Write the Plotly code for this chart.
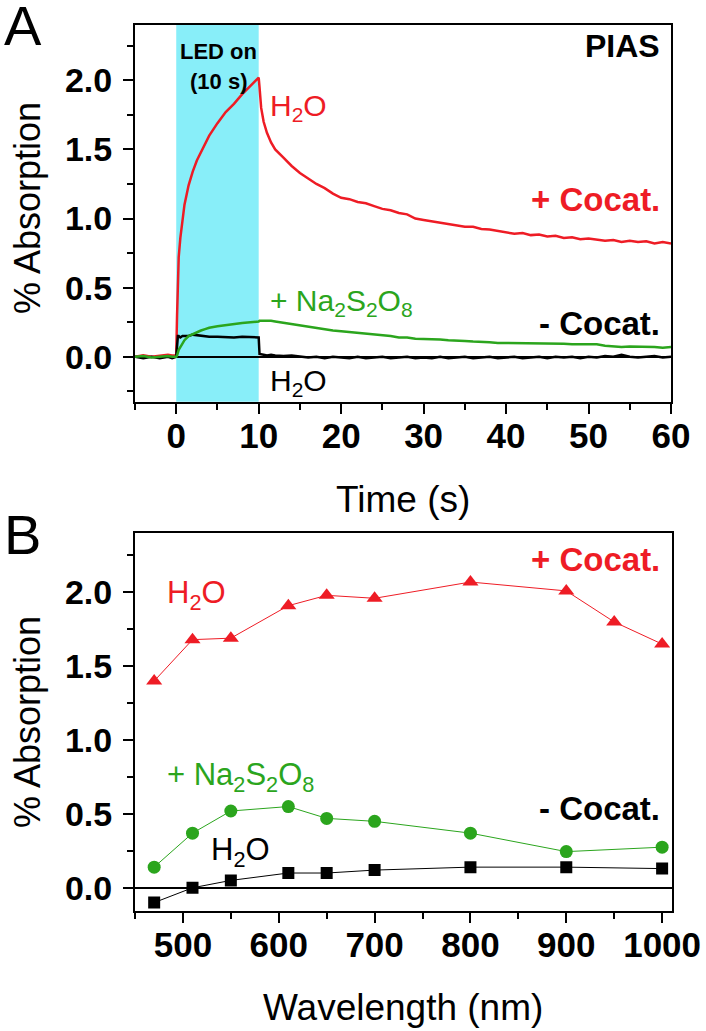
import plotly.graph_objects as go

# ---------------- data: panel A (PIAS kinetics) ----------------
time_s = [-5, -4, -3, -2, -1, -0.5, 0, 0.1, 0.2, 0.3, 0.5, 0.75, 1, 1.5, 2, 2.5, 3, 3.5, 4,
          5, 6, 7, 8, 9, 9.5, 9.9, 10, 10.1, 10.3, 10.6, 11, 11.5, 12, 13, 14, 15, 16, 17, 18, 19,
          20, 21, 22, 23, 24, 25, 26, 27, 28, 29, 30, 31, 32, 33, 34, 35, 36, 37, 38, 39,
          40, 41, 42, 43, 44, 45, 46, 47, 48, 49, 50, 51, 52, 53, 54, 55, 56, 57, 58, 59, 60]

h2o_cocat = [0.00, 0.01, 0.00, 0.01, 0.015, 0.01, 0.01, 0.30, 0.55, 0.72, 0.86, 1.00, 1.10, 1.24, 1.34, 1.42, 1.48, 1.54, 1.60,
             1.69, 1.77, 1.83, 1.90, 1.96, 1.99, 2.02, 2.02, 1.95, 1.80, 1.70, 1.62, 1.55, 1.50, 1.44, 1.38, 1.33, 1.29, 1.25, 1.22, 1.18,
             1.15, 1.14, 1.12, 1.11, 1.09, 1.07, 1.06, 1.04, 1.03, 1.00, 0.99, 0.98, 0.97, 0.96, 0.955, 0.94, 0.94, 0.925, 0.92, 0.91,
             0.90, 0.89, 0.895, 0.88, 0.885, 0.87, 0.875, 0.86, 0.865, 0.85, 0.855, 0.85, 0.84, 0.845, 0.83, 0.84, 0.83, 0.835, 0.82, 0.83, 0.82]

h2o_nococat = [0.00, -0.01, 0.00, -0.01, 0.00, -0.01, 0.00, 0.12, 0.15, 0.15, 0.14, 0.15, 0.15, 0.15, 0.16, 0.155, 0.15, 0.15, 0.145,
               0.145, 0.14, 0.14, 0.145, 0.145, 0.14, 0.145, 0.14, 0.02, 0.02, 0.015, 0.01, 0.015, 0.01, 0.005, 0.01, 0.00, -0.005, 0.00, -0.01, 0.00,
               -0.005, -0.01, 0.00, -0.01, -0.005, 0.00, -0.01, -0.005, 0.00, -0.01, -0.005, -0.01, 0.00, -0.01, -0.005, 0.00, -0.01, -0.005, 0.00, -0.01,
               -0.005, 0.00, -0.01, -0.005, 0.00, -0.01, 0.00, -0.005, 0.00, -0.01, 0.00, -0.005, 0.005, 0.00, 0.015, 0.00, -0.005, 0.00, 0.005, -0.005, 0.00]

na2s2o8 = [0.00, 0.005, -0.005, 0.00, 0.005, 0.00, 0.00, 0.01, 0.03, 0.05, 0.07, 0.10, 0.12, 0.15, 0.165, 0.18, 0.19, 0.20, 0.21,
           0.22, 0.23, 0.24, 0.245, 0.25, 0.25, 0.255, 0.255, 0.26, 0.26, 0.265, 0.265, 0.26, 0.255, 0.245, 0.235, 0.225, 0.215, 0.21, 0.20, 0.19,
           0.185, 0.18, 0.17, 0.165, 0.16, 0.155, 0.15, 0.14, 0.14, 0.13, 0.13, 0.125, 0.125, 0.12, 0.12, 0.115, 0.11, 0.11, 0.105, 0.10,
           0.10, 0.10, 0.095, 0.10, 0.10, 0.095, 0.095, 0.095, 0.09, 0.09, 0.09, 0.09, 0.08, 0.075, 0.07, 0.075, 0.075, 0.07, 0.07, 0.065, 0.07]

led_on_s = [0, 10]

# ---------------- data: panel B (wavelength dependence) ----------------
wl_cocat = [470, 510, 550, 610, 650, 700, 800, 900, 950, 1000]
abs_cocat = [1.40, 1.68, 1.69, 1.91, 1.98, 1.96, 2.07, 2.01, 1.80, 1.65]

wl_na = [470, 510, 550, 610, 650, 700, 800, 900, 1000]
abs_na = [0.14, 0.37, 0.52, 0.55, 0.47, 0.45, 0.37, 0.245, 0.275]

wl_h2o = [470, 510, 550, 610, 650, 700, 800, 900, 1000]
abs_h2o = [-0.10, 0.00, 0.05, 0.10, 0.10, 0.12, 0.14, 0.14, 0.13]

# ---------------- styling ----------------
W, H = 706, 1031
RED = "#EE1C25"
GREEN = "#2BA51D"
CYAN = "#88EEF9"
FONT = "Liberation Sans, Arial, Helvetica, sans-serif"


def px(x):
    return x / W


def py(y):
    return 1 - y / H


fig = go.Figure()

fig.add_trace(go.Scatter(x=time_s, y=h2o_cocat, mode="lines", line=dict(color=RED, width=2.5),
                         xaxis="x", yaxis="y", showlegend=False))
fig.add_trace(go.Scatter(x=time_s, y=h2o_nococat, mode="lines", line=dict(color="black", width=2.5),
                         xaxis="x", yaxis="y", showlegend=False))
fig.add_trace(go.Scatter(x=time_s, y=na2s2o8, mode="lines", line=dict(color=GREEN, width=2.5),
                         xaxis="x", yaxis="y", showlegend=False))

fig.add_trace(go.Scatter(x=wl_cocat, y=abs_cocat, mode="lines+markers",
                         line=dict(color=RED, width=1),
                         marker=dict(symbol="triangle-up", size=14, color=RED),
                         xaxis="x2", yaxis="y2", showlegend=False))
fig.add_trace(go.Scatter(x=wl_na, y=abs_na, mode="lines+markers",
                         line=dict(color=GREEN, width=1),
                         marker=dict(symbol="circle", size=13, color=GREEN),
                         xaxis="x2", yaxis="y2", showlegend=False))
fig.add_trace(go.Scatter(x=wl_h2o, y=abs_h2o, mode="lines+markers",
                         line=dict(color="black", width=1),
                         marker=dict(symbol="square", size=12, color="black"),
                         xaxis="x2", yaxis="y2", showlegend=False))

fig.add_shape(type="rect", xref="x", yref="y domain", x0=led_on_s[0], x1=led_on_s[1], y0=0, y1=1,
              fillcolor=CYAN, line=dict(width=0), layer="below")

tickfont_x = dict(family=FONT, size=35, color="black", weight="bold")
tickfont_y = dict(family=FONT, size=34, color="black", weight="bold")

common_axis = dict(showgrid=False, showline=True, linecolor="black", linewidth=2, mirror=True,
                   ticks="outside", ticklen=10, tickwidth=2, tickcolor="black", automargin=False)

fig.update_layout(
    width=W, height=H, autosize=False,
    margin=dict(l=0, r=0, t=0, b=0, pad=0, autoexpand=False),
    paper_bgcolor="white", plot_bgcolor="white",
    xaxis=dict(domain=[px(135), px(671)], anchor="y", range=[-5, 60], dtick=10, tick0=0,
               zeroline=False, tickfont=tickfont_x, ticklabelstandoff=-8,
               minor=dict(dtick=5, ticks="outside", ticklen=6, tickwidth=2, tickcolor="black"),
               **common_axis),
    yaxis=dict(domain=[py(401.7), py(25)], anchor="x", range=[-0.325, 2.4], dtick=0.5, tick0=0,
               tickformat=".1f", zeroline=True, zerolinecolor="black", zerolinewidth=2,
               tickfont=tickfont_y, ticklabelstandoff=4,
               minor=dict(dtick=0.25, ticks="outside", ticklen=6, tickwidth=2, tickcolor="black"),
               **common_axis),
    xaxis2=dict(domain=[px(135), px(671.7)], anchor="y2", range=[450, 1010], dtick=100, tick0=0,
                zeroline=False, tickfont=tickfont_x, ticklabelstandoff=-8,
                minor=dict(dtick=50, ticks="outside", ticklen=6, tickwidth=2, tickcolor="black"),
                **common_axis),
    yaxis2=dict(domain=[py(910.7), py(533.3)], anchor="x2", range=[-0.155, 2.4], dtick=0.5, tick0=0,
                tickformat=".1f", zeroline=True, zerolinecolor="black", zerolinewidth=2,
                tickfont=tickfont_y, ticklabelstandoff=4,
                minor=dict(dtick=0.25, ticks="outside", ticklen=6, tickwidth=2, tickcolor="black"),
                **common_axis),
)


def label(text, x, cap_top, size, color="black", bold=False, anchor="left", angle=0):
    # cap_top: pixel y of capital-letter top; box top lies ~0.19 em above it
    fig.add_annotation(text=text, xref="paper", yref="paper", x=px(x), y=py(cap_top - 0.19 * size - 1),
                       xanchor=anchor, yanchor="top", showarrow=False, textangle=angle,
                       font=dict(family=FONT, size=size, color=color, weight="bold" if bold else "normal"))


# panel A texts
label("A", 2, 4, 56)
label("LED on", 218, 41.7, 22, bold=True, anchor="center")
label("(10 s)", 218, 72, 22, bold=True, anchor="center")
label("PIAS", 662, 33, 32, bold=True, anchor="right")
label("H<sub>2</sub>O", 268, 93.3, 30, color=RED)
label("+ Cocat.", 662, 186.7, 33, color=RED, bold=True, anchor="right")
label("+ Na<sub>2</sub>S<sub>2</sub>O<sub>8</sub>", 268, 288.3, 30, color=GREEN)
label("- Cocat.", 662, 310, 33, bold=True, anchor="right")
label("H<sub>2</sub>O", 268, 368.3, 30)
label("Time (s)", 403, 485, 37, anchor="center")

# panel B texts
label("B", 2, 513, 56)
label("+ Cocat.", 662, 546.7, 33, color=RED, bold=True, anchor="right")
label("H<sub>2</sub>O", 165, 580, 31, color=RED)
label("+ Na<sub>2</sub>S<sub>2</sub>O<sub>8</sub>", 165, 761.7, 31, color=GREEN)
label("- Cocat.", 662, 795, 33, bold=True, anchor="right")
label("H<sub>2</sub>O", 208.5, 836.7, 31)
label("Wavelength (nm)", 403, 993, 37, anchor="center")

# y-axis titles (rotated)
for yc in (208, 722):
    fig.add_annotation(text="% Absorption", xref="paper", yref="paper", x=px(27), y=py(yc),
                       xanchor="center", yanchor="middle", showarrow=False, textangle=-90,
                       font=dict(family=FONT, size=36, color="black"))

fig.write_html("out.html", config={"responsive": False, "displayModeBar": False},
               post_script="document.body.style.margin='0';document.body.style.overflow='hidden';")
